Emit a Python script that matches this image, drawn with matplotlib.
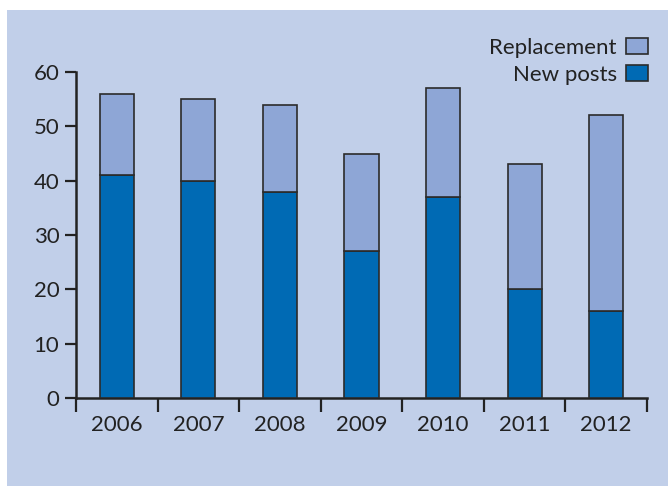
import matplotlib.pyplot as plt
from matplotlib.patches import Rectangle, Patch
import numpy as np

plt.rcParams['font.family'] = ['Lato', 'DejaVu Sans']

years = ['2006', '2007', '2008', '2009', '2010', '2011', '2012']
new_posts = [41, 40, 38, 27, 37, 20, 16]
replacement = [15, 15, 16, 18, 20, 23, 36]
y_ticks = [0, 10, 20, 30, 40, 50, 60]

bg = '#c1cfe9'
c_new = '#006ab4'
c_rep = '#8ea6d6'
edge = '#2b2b2b'

fig = plt.figure(figsize=(6.68, 4.86), dpi=100, facecolor='white')
# light blue panel behind everything (small white margin top/left)
fig.patches.append(Rectangle((7 / 668, 0), 1, 1 - 10 / 486, transform=fig.transFigure,
                             facecolor=bg, edgecolor='none', zorder=-10))

ax = fig.add_axes([76 / 668, 1 - 398 / 486, (647 - 76) / 668, (398 - 72) / 486])
ax.set_facecolor('none')

x = np.arange(len(years))
ax.bar(x, new_posts, width=0.42, color=c_new, edgecolor=edge, linewidth=1.2, zorder=3)
ax.bar(x, replacement, width=0.42, bottom=new_posts, color=c_rep, edgecolor=edge,
       linewidth=1.2, zorder=3)

ax.set_xlim(-0.5, len(years) - 0.5)
ax.set_ylim(0, 60)
ax.set_yticks(y_ticks)

# long ticks between categories, labels centred under the bars
ax.set_xticks(np.arange(-0.5, len(years), 1.0))
ax.set_xticklabels([])
ax.set_xticks(x, minor=True)
ax.set_xticklabels(years, minor=True)
ax.tick_params(axis='x', which='major', length=10, width=1.6, color='#222222', direction='out')
ax.tick_params(axis='x', which='minor', length=0, pad=12, labelsize=16, labelcolor='#222222')
ax.tick_params(axis='y', length=8, width=1.6, color='#222222', pad=4,
               labelsize=16, labelcolor='#222222')

for s in ['top', 'right']:
    ax.spines[s].set_visible(False)
for s in ['left', 'bottom']:
    ax.spines[s].set_linewidth(1.8)
    ax.spines[s].set_color('#222222')

handles = [Patch(facecolor=c_rep, edgecolor=edge, linewidth=1.2, label='Replacement'),
           Patch(facecolor=c_new, edgecolor=edge, linewidth=1.2, label='New posts')]
leg = fig.legend(handles=handles, loc='upper right', bbox_to_anchor=(648 / 668, 1 - 38 / 486),
                 frameon=False, markerfirst=False, fontsize=16, handlelength=1.0,
                 handleheight=0.72, labelspacing=0.32, handletextpad=0.4, borderpad=0,
                 borderaxespad=0)
for t in leg.get_texts():
    t.set_color('#222222')

fig.savefig('out.png', dpi=100, facecolor='white')
